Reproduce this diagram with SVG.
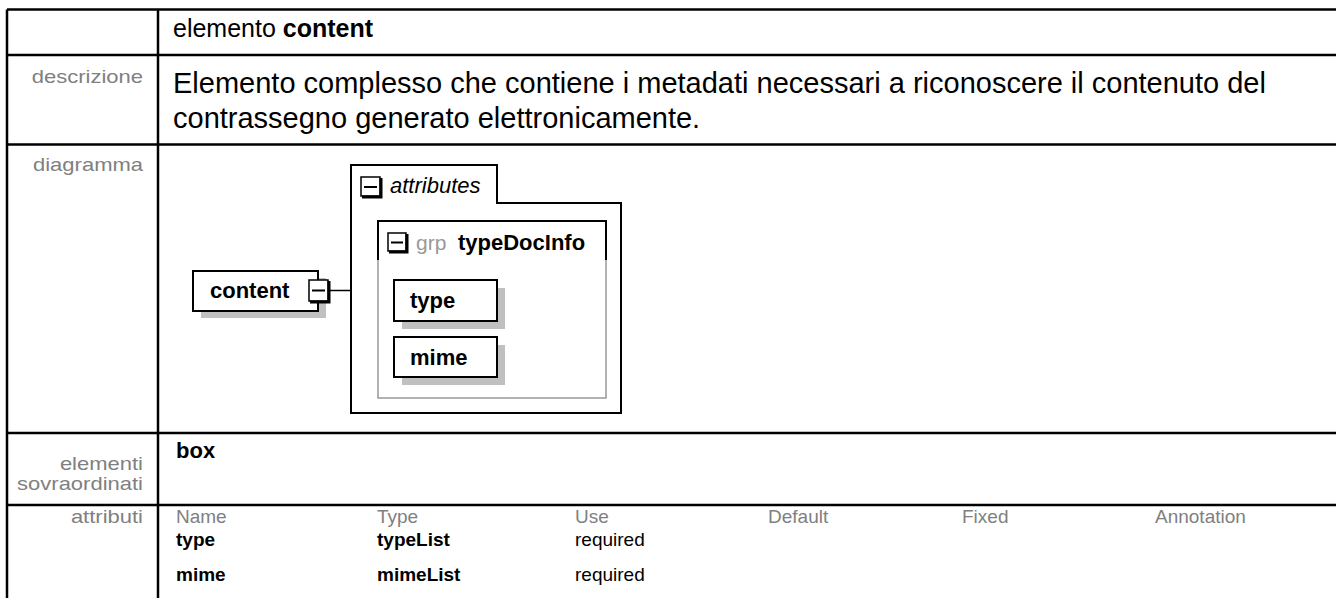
<svg xmlns="http://www.w3.org/2000/svg" width="1336" height="598" viewBox="0 0 1336 598">
<style>
.t{font-family:"Liberation Sans",Arial,sans-serif}
.lbl{font-family:"Liberation Sans",Arial,sans-serif;font-size:19px;fill:#808080}
.hd{font-family:"Liberation Sans",Arial,sans-serif;font-size:19px;fill:#808080}
.v{font-family:"Liberation Sans",Arial,sans-serif;font-size:19px;fill:#000}
.b{font-weight:bold}
.grid{stroke:#000;stroke-width:2.5;fill:none}
.node{fill:#fff;stroke:#000;stroke-width:2}
.shadow{fill:#c0c0c0}
.nt{font-family:"Liberation Sans",Arial,sans-serif;font-size:22px;font-weight:bold;fill:#000}
.sq{fill:#fff;stroke:#000;stroke-width:1.5}
.sqs{fill:none;stroke:#000;stroke-width:3}
.minus{stroke:#000;stroke-width:2}
</style>
<rect width="1336" height="598" fill="#fff"/>
<g id="table">
<path class="grid" d="M7,9.5H1336M7,9.5V598M158,9.5V598M7,55H1336M7,144.5H1336M7,433H1336M7,505H1336"/>
</g>
<g id="header">
<text class="t" x="173" y="37" font-size="25">elemento <tspan class="b">content</tspan></text>
</g>
<g id="descrizione">
<text class="lbl" x="31.7" y="83" textLength="111.3" lengthAdjust="spacingAndGlyphs">descrizione</text>
<text class="t" x="173" y="93" font-size="29">Elemento complesso che contiene i metadati necessari a riconoscere il contenuto del</text>
<text class="t" x="173" y="128" font-size="29">contrassegno generato elettronicamente.</text>
</g>
<g id="diagramma">
<text class="lbl" x="33" y="171" textLength="110" lengthAdjust="spacingAndGlyphs">diagramma</text>
</g>
<g id="node-content">
<rect class="shadow" x="201" y="278" width="125" height="40"/>
<rect class="node" x="193" y="271" width="125" height="40"/>
<text class="nt" x="210" y="298">content</text>
<rect class="sq" x="309" y="280" width="19" height="21"/>
<path class="sqs" d="M310,302H329V281"/>
<path class="minus" d="M312,290.5H325"/>
</g>
<g id="connectors">
<path d="M330,290.5H351" stroke="#000" stroke-width="1.5" fill="none"/>
</g>
<g id="node-attributes">
<path d="M351,165H497V203H621V413H351Z" fill="#fff" stroke="#000" stroke-width="2"/>
<rect class="sq" x="361" y="177" width="19" height="19"/>
<path class="sqs" d="M362,197H381V178"/>
<path class="minus" d="M364,187H377"/>
<text class="t" x="390" y="193" font-size="22" font-style="italic">attributes</text>
</g>
<g id="node-typeDocInfo">
<rect x="378" y="221" width="228" height="177" fill="#fff" stroke="#999" stroke-width="1.5"/>
<path d="M378,260V221H606V260" fill="none" stroke="#000" stroke-width="2"/>
<rect class="sq" x="388" y="233" width="18" height="18"/>
<path class="sqs" d="M389,252H407V234"/>
<path class="minus" d="M391,242.5H403"/>
<text class="t" x="416" y="250" font-size="21" fill="#999">grp</text>
<text class="nt" x="458" y="250">typeDocInfo</text>
</g>
<g id="node-type">
<rect class="shadow" x="402" y="288" width="103" height="41"/>
<rect class="node" x="394" y="280" width="103" height="41"/>
<text class="nt" x="410" y="308">type</text>
</g>
<g id="node-mime">
<rect class="shadow" x="402" y="345" width="103" height="40"/>
<rect class="node" x="394" y="337" width="103" height="40"/>
<text class="nt" x="410" y="365">mime</text>
</g>
<g id="elementi">
<text class="lbl" x="59.9" y="470" textLength="83.1" lengthAdjust="spacingAndGlyphs">elementi</text>
<text class="lbl" x="17.1" y="490" textLength="125.9" lengthAdjust="spacingAndGlyphs">sovraordinati</text>
<text class="t b" x="176" y="458" font-size="22">box</text>
</g>
<g id="attributi">
<text class="lbl" x="70.9" y="523" textLength="72.1" lengthAdjust="spacingAndGlyphs">attributi</text>
<text class="hd" x="176" y="523">Name</text>
<text class="hd" x="377" y="523">Type</text>
<text class="hd" x="575" y="523">Use</text>
<text class="hd" x="768" y="523">Default</text>
<text class="hd" x="962" y="523">Fixed</text>
<text class="hd" x="1155" y="523">Annotation</text>
<text class="v b" x="176" y="546">type</text>
<text class="v b" x="377" y="546">typeList</text>
<text class="v" x="575" y="546">required</text>
<text class="v b" x="176" y="581">mime</text>
<text class="v b" x="377" y="581">mimeList</text>
<text class="v" x="575" y="581">required</text>
</g>
</svg>
